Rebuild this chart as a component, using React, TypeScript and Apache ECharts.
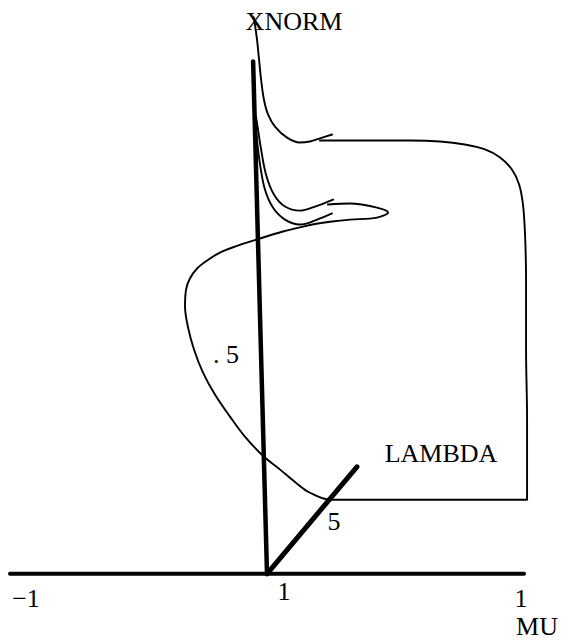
import { useEffect, useRef } from "react";
import * as echarts from "echarts";

// Projected coordinates of the solution branches (MU horizontal, XNORM up, LAMBDA receding).
const upperBranch: [number, number][] = [
  [-0.051, 2.163], [-0.039, 2.078], [-0.031, 2.0], [-0.023, 1.922], [-0.012, 1.844],
  [0.004, 1.786], [0.031, 1.739], [0.078, 1.696], [0.128, 1.677], [0.167, 1.681],
  [0.206, 1.693], [0.253, 1.708],
];

const mainBranch: [number, number][] = [
  [0.206, 1.685], [0.362, 1.685], [0.556, 1.685], [0.673, 1.681], [0.77, 1.669],
  [0.848, 1.65], [0.907, 1.619], [0.953, 1.572], [0.981, 1.514], [0.996, 1.436],
  [1.004, 1.319], [1.008, 1.144], [1.008, 0.872], [1.012, 0.599], [1.012, 0.288],
  [0.829, 0.288], [0.595, 0.288], [0.362, 0.288], [0.245, 0.288],
  [0.167, 0.315], [0.117, 0.35], [0.051, 0.405], [-0.016, 0.459], [-0.086, 0.533],
  [-0.144, 0.611], [-0.202, 0.696], [-0.249, 0.782], [-0.284, 0.872], [-0.307, 0.957],
  [-0.319, 1.039], [-0.315, 1.105], [-0.3, 1.148], [-0.272, 1.187], [-0.233, 1.218],
  [-0.183, 1.249], [-0.125, 1.272], [-0.039, 1.3], [0.062, 1.331], [0.14, 1.35],
  [0.198, 1.362], [0.253, 1.37], [0.323, 1.377], [0.428, 1.385], [0.471, 1.405],
  [0.428, 1.424], [0.323, 1.44], [0.237, 1.436],
];

const middleBranch: [number, number][] = [
  [-0.043, 1.778], [-0.035, 1.728], [-0.023, 1.65], [-0.004, 1.553], [0.027, 1.475],
  [0.07, 1.428], [0.128, 1.412], [0.187, 1.428], [0.257, 1.455],
];

const lowerBranch: [number, number][] = [
  [-0.043, 1.759], [-0.039, 1.689], [-0.027, 1.591], [-0.008, 1.494], [0.023, 1.424],
  [0.07, 1.377], [0.128, 1.358], [0.195, 1.377], [0.253, 1.401],
];

// Axes of the 3-D frame, drawn from the origin.
const muAxis: [number, number][] = [[-1, 0], [1, 0]];
const xnormAxis: [number, number][] = [[0, 0], [-0.054, 1.992]];
const lambdaAxis: [number, number][] = [[0, 0], [0.35, 0.416]];

const axisNames = ["MU", "XNORM", "LAMBDA"];
const muTickLabels = ["\u22121", "1"];
const xnormTickLabel = ". 5";
const lambdaTickLabel = "5";
const originLabel = "1";

const FONT = '"Liberation Serif", "DejaVu Serif", serif';

export default function App() {
  const ref = useRef<HTMLDivElement>(null);

  useEffect(() => {
    if (!ref.current) return;
    const chart = echarts.init(ref.current, null, { renderer: "svg" });

    const curve = (data: [number, number][], width: number) => ({
      type: "line",
      data,
      showSymbol: false,
      smooth: 0.35,
      clip: false,
      lineStyle: { color: "#000", width, cap: "round", join: "round" },
      silent: true,
    });
    const straight = (data: [number, number][], width: number) => ({
      type: "line",
      data,
      showSymbol: false,
      clip: false,
      lineStyle: { color: "#000", width, cap: "round" },
      silent: true,
    });

    const text = (t: string, x: number, y: number) => ({
      type: "text",
      x,
      y,
      style: {
        text: t,
        fill: "#000",
        font: `26px ${FONT}`,
        align: "center",
        verticalAlign: "middle",
      },
    });

    chart.setOption({
      animation: false,
      backgroundColor: "#fff",
      // 257 px per unit on both axes; the origin sits at (267, 574).
      grid: { left: 10, right: 18.3, top: 8, bottom: 16.8 },
      xAxis: {
        type: "value",
        min: -1,
        max: 1.1,
        show: false,
        splitLine: { show: false },
      },
      yAxis: {
        type: "value",
        min: -0.2,
        max: 2.2,
        show: false,
        splitLine: { show: false },
      },
      series: [
        straight(muAxis, 4),
        straight(xnormAxis, 4.5),
        straight(lambdaAxis, 5),
        curve(upperBranch, 1.9),
        curve(mainBranch, 1.9),
        curve(middleBranch, 1.9),
        curve(lowerBranch, 1.9),
      ],
      graphic: [
        text(axisNames[1], 294, 21),
        text(axisNames[2], 441, 453),
        text(axisNames[0], 537, 626),
        text(muTickLabels[0], 26, 598),
        text(muTickLabels[1], 521, 598),
        text(originLabel, 284, 591),
        text(xnormTickLabel, 226, 354),
        text(lambdaTickLabel, 334, 521),
      ],
    });

    return () => chart.dispose();
  }, []);

  return (
    <div
      ref={ref}
      style={{ position: "fixed", left: 0, top: 0, width: 568, height: 642, background: "#fff" }}
    />
  );
}
